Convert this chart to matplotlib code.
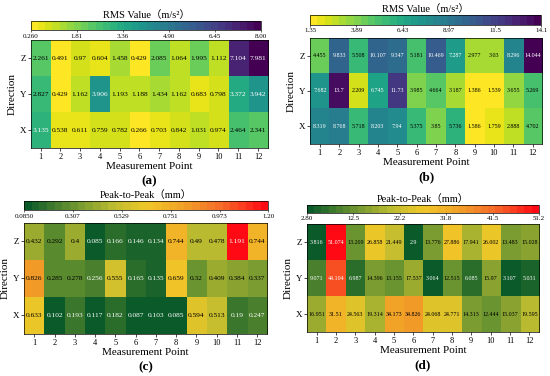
import numpy as np
import matplotlib
matplotlib.use('Agg')
import matplotlib.pyplot as plt
from matplotlib.colors import LinearSegmentedColormap

plt.rcParams['font.family'] = ['Liberation Serif', 'Noto Sans CJK SC']

# data
points = [str(i) for i in range(1, 13)]
directions = ['Z', 'Y', 'X']

a_Z = [2.261, 0.491, 0.97, 0.604, 1.458, 0.429, 2.085, 1.064, 1.995, 1.112, 7.104, 7.981]
a_Y = [2.827, 0.429, 1.162, 3.906, 1.193, 1.188, 1.434, 1.162, 0.683, 0.798, 3.372, 3.942]
a_X = [3.135, 0.538, 0.611, 0.759, 0.782, 0.266, 0.703, 0.842, 1.031, 0.974, 2.464, 2.341]

b_Z = [4.455, 9.833, 5.508, 10.107, 9.347, 5.181, 10.469, 7.287, 2.977, 3.03, 8.296, 14.044]
b_Y = [7.682, 13.7, 2.209, 6.745, 11.73, 3.985, 4.664, 3.187, 1.386, 1.539, 3.655, 5.269]
b_X = [8.319, 8.768, 5.718, 8.203, 7.94, 5.375, 3.85, 5.736, 1.586, 1.759, 2.888, 4.702]

c_Z = [0.432, 0.292, 0.4, 0.085, 0.166, 0.146, 0.134, 0.744, 0.49, 0.478, 1.191, 0.744]
c_Y = [0.826, 0.285, 0.278, 0.256, 0.555, 0.165, 0.135, 0.659, 0.32, 0.409, 0.384, 0.337]
c_X = [0.633, 0.102, 0.193, 0.117, 0.182, 0.087, 0.103, 0.085, 0.594, 0.513, 0.19, 0.247]

d_Z = [3.816, 51.074, 13.209, 26.858, 21.449, 2.9, 13.776, 27.886, 17.941, 26.002, 13.483, 15.028]
d_Y = [9.071, 44.104, 6.987, 14.396, 13.155, 17.537, 3.064, 12.515, 6.085, 15.97, 3.107, 5.031]
d_X = [16.951, 31.51, 24.563, 19.314, 34.173, 34.826, 24.068, 24.771, 14.313, 12.444, 15.037, 19.595]

a_range = (0.26, 8.00)
b_range = (1.35, 14.1)
c_range = (0.085, 1.20)
d_range = (2.80, 51.2)

a_ticks = ['0.260', '1.81', '3.36', '4.90', '6.45', '8.00']
b_ticks = ['1.35', '3.89', '6.43', '8.97', '11.5', '14.1']
c_ticks = ['0.0850', '0.307', '0.529', '0.751', '0.973', '1.20']
d_ticks = ['2.80', '12.5', '22.2', '31.8', '41.5', '51.2']

rms_title = 'RMS Value（m/s²）'
p2p_title = 'Peak-to-Peak（mm）'

cmap_rms = plt.get_cmap('viridis_r').resampled(32)
cmap_p2p = LinearSegmentedColormap.from_list(
    'gyr', [(0.0, '#0b5a2a'), (0.2, '#6e9630'), (0.36, '#bcbc30'),
            (0.5, '#f0c828'), (0.66, '#f2a028'), (0.82, '#f56a28'),
            (1.0, '#ff0a14')], N=32)


def panel(hm_pos, cb_pos, rows, rng, ticks, cmap, title, tag, fs, lo, hi):
    data = np.array(rows)
    ax = fig.add_axes(hm_pos)
    im = ax.imshow(data, cmap=cmap, vmin=rng[0], vmax=rng[1], aspect='auto',
                   interpolation='nearest')
    norm = (data - rng[0]) / (rng[1] - rng[0])
    for r in range(data.shape[0]):
        for c in range(data.shape[1]):
            col = 'white' if (norm[r, c] > hi or norm[r, c] < lo) else 'black'
            ax.text(c, r, '{:g}'.format(data[r, c]), ha='center', va='center',
                    fontsize=fs, color=col)
    ax.set_xticks(range(12))
    ax.set_xticklabels(points, fontsize=6)
    ax.set_yticks(range(3))
    ax.set_yticklabels(directions, fontsize=6.5)
    ax.tick_params(length=2, width=0.5, pad=1.5)
    ax.set_xlabel('Measurement Point', fontsize=8, labelpad=1)
    ax.set_ylabel('Direction', fontsize=8, labelpad=2)
    for s in ax.spines.values():
        s.set_linewidth(0.5)
    # panel tag, about 33 px under the map
    ax.text(0.5, -33 / (hm_pos[3] * 376), tag, transform=ax.transAxes,
            ha='center', va='center', fontsize=9.5, fontweight='bold')

    cax = fig.add_axes(cb_pos)
    cb = fig.colorbar(im, cax=cax, orientation='horizontal')
    cb.set_ticks(np.linspace(rng[0], rng[1], 6))
    cb.set_ticklabels(ticks)
    cax.tick_params(labelsize=5, length=1.5, width=0.4, pad=1)
    cb.outline.set_linewidth(0.5)
    cax.set_title(title, fontsize=7.5, pad=2)


fig = plt.figure(figsize=(5.5, 3.76), dpi=100)

panel([0.056, 0.606, 0.431, 0.287], [0.056, 0.920, 0.419, 0.024],
      [a_Z, a_Y, a_X], a_range, a_ticks, cmap_rms, rms_title, '(a)', 5.3, -1, 0.35)
panel([0.564, 0.617, 0.422, 0.282], [0.564, 0.934, 0.420, 0.027],
      [b_Z, b_Y, b_X], b_range, b_ticks, cmap_rms, rms_title, '(b)', 4.3, -1, 0.36)
panel([0.044, 0.112, 0.442, 0.295], [0.044, 0.441, 0.444, 0.024],
      [c_Z, c_Y, c_X], c_range, c_ticks, cmap_p2p, p2p_title, '(c)', 5.3, 0.155, 0.85)
panel([0.558, 0.117, 0.422, 0.287], [0.558, 0.434, 0.422, 0.021],
      [d_Z, d_Y, d_X], d_range, d_ticks, cmap_p2p, p2p_title, '(d)', 4.3, 0.155, 0.85)

fig.savefig('out.png', dpi=100)
